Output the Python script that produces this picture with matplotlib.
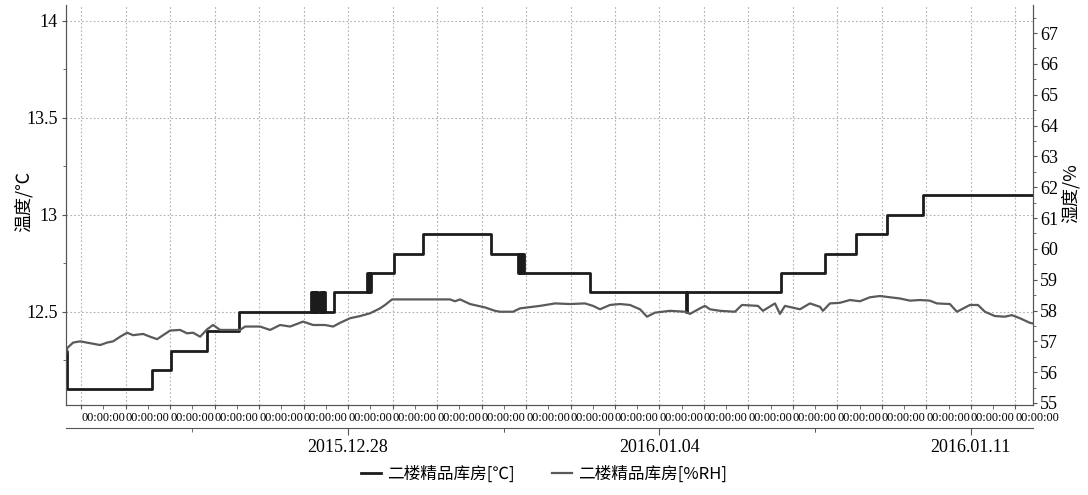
import numpy as np
import pandas as pd
import matplotlib
matplotlib.use('Agg')
import matplotlib.pyplot as plt
import matplotlib.dates as mdates
from matplotlib.ticker import MultipleLocator, FixedLocator

# 字体：数字用衬线体，中文回退到 Noto CJK
plt.rcParams['font.family'] = ['Liberation Serif', 'Noto Sans CJK SC', 'DejaVu Sans']
plt.rcParams['axes.unicode_minus'] = False

# 温度（阶梯数据：变化时刻与数值）
temp_times = [
    '2015-12-21 15:50', '2015-12-21 16:30', '2015-12-23 14:20', '2015-12-24 00:30',
    '2015-12-24 20:00', '2015-12-25 13:15',
    '2015-12-27 04:10', '2015-12-27 04:40', '2015-12-27 05:10', '2015-12-27 05:40',
    '2015-12-27 06:10', '2015-12-27 06:40', '2015-12-27 07:10', '2015-12-27 07:40',
    '2015-12-27 08:50', '2015-12-27 09:20', '2015-12-27 09:50', '2015-12-27 10:20',
    '2015-12-27 10:50', '2015-12-27 11:20', '2015-12-27 11:50',
    '2015-12-27 16:30',
    '2015-12-28 10:20', '2015-12-28 10:50', '2015-12-28 11:20', '2015-12-28 11:50',
    '2015-12-28 12:20',
    '2015-12-29 00:50', '2015-12-29 16:30', '2015-12-31 05:10',
    '2015-12-31 19:40', '2015-12-31 20:10', '2015-12-31 20:40', '2015-12-31 21:10',
    '2015-12-31 21:40', '2015-12-31 22:10', '2015-12-31 22:50',
    '2016-01-02 10:30', '2016-01-04 14:15', '2016-01-04 14:45',
    '2016-01-06 17:30', '2016-01-07 17:15', '2016-01-08 10:00', '2016-01-09 02:40',
    '2016-01-09 22:00', '2016-01-12 09:30',
]
temp_vals = [
    12.3, 12.1, 12.2, 12.3,
    12.4, 12.5,
    12.6, 12.5, 12.6, 12.5,
    12.6, 12.5, 12.6, 12.5,
    12.6, 12.5, 12.6, 12.5,
    12.6, 12.5, 12.5,
    12.6,
    12.7, 12.6, 12.7, 12.6,
    12.7,
    12.8, 12.9, 12.8,
    12.7, 12.8, 12.7, 12.8,
    12.7, 12.8, 12.7,
    12.6, 12.5, 12.6,
    12.7, 12.8, 12.9, 13.0,
    13.1, 13.1,
]

# 湿度
hum_times = [
    '2015-12-21 15:50', '2015-12-21 16:27', '2015-12-21 19:41', '2015-12-21 23:28',
    '2015-12-22 04:51', '2015-12-22 10:15', '2015-12-22 14:01', '2015-12-22 17:16',
    '2015-12-22 21:02', '2015-12-23 00:49', '2015-12-23 04:02', '2015-12-23 09:26',
    '2015-12-23 13:13', '2015-12-23 16:59', '2015-12-23 20:13', '2015-12-24 00:00',
    '2015-12-24 05:23', '2015-12-24 09:10', '2015-12-24 12:24', '2015-12-24 16:11',
    '2015-12-24 19:57', '2015-12-24 23:11', '2015-12-25 02:58', '2015-12-25 13:45',
    '2015-12-25 16:27', '2015-12-26 00:32', '2015-12-26 05:56', '2015-12-26 11:20',
    '2015-12-26 16:43', '2015-12-26 23:44', '2015-12-27 05:07', '2015-12-27 11:36',
    '2015-12-27 15:55', '2015-12-27 19:41', '2015-12-28 01:05', '2015-12-28 06:28',
    '2015-12-28 11:52', '2015-12-28 17:16', '2015-12-28 19:57', '2015-12-28 23:44',
    '2015-12-30 07:01', '2015-12-30 09:42', '2015-12-30 12:24', '2015-12-30 17:48',
    '2015-12-31 01:53', '2015-12-31 07:17', '2015-12-31 09:59', '2015-12-31 16:59',
    '2015-12-31 20:46', '2016-01-01 07:33', '2016-01-01 15:38', '2016-01-01 23:44',
    '2016-01-02 07:49', '2016-01-02 12:08', '2016-01-02 15:55', '2016-01-02 21:18',
    '2016-01-03 02:42', '2016-01-03 08:05', '2016-01-03 13:29', '2016-01-03 17:16',
    '2016-01-03 21:34', '2016-01-04 05:40', '2016-01-04 13:45', '2016-01-04 16:27',
    '2016-01-04 21:50', '2016-01-05 00:32', '2016-01-05 03:14', '2016-01-05 08:38',
    '2016-01-05 16:43', '2016-01-05 20:30', '2016-01-06 05:08', '2016-01-06 07:49',
    '2016-01-06 14:18', '2016-01-06 16:59', '2016-01-06 19:41', '2016-01-07 03:47',
    '2016-01-07 09:10', '2016-01-07 14:34', '2016-01-07 16:11', '2016-01-07 19:58',
    '2016-01-08 01:21', '2016-01-08 06:44', '2016-01-08 12:08', '2016-01-08 17:32',
    '2016-01-08 22:55', '2016-01-09 04:19', '2016-01-09 09:43', '2016-01-09 15:06',
    '2016-01-09 20:30', '2016-01-10 01:53', '2016-01-10 05:40', '2016-01-10 12:41',
    '2016-01-10 16:27', '2016-01-10 23:28', '2016-01-11 03:47', '2016-01-11 07:33',
    '2016-01-11 12:57', '2016-01-11 18:20', '2016-01-11 22:07', '2016-01-12 02:26',
    '2016-01-12 07:49', '2016-01-12 09:30',
]
hum_vals = [
    56.55, 56.78, 56.96, 57.0,
    56.94, 56.88, 56.96, 57.0,
    57.15, 57.28, 57.2, 57.24,
    57.15, 57.07, 57.2, 57.35,
    57.37, 57.26, 57.28, 57.15,
    57.39, 57.53, 57.37, 57.37,
    57.48, 57.48, 57.37, 57.53,
    57.48, 57.64, 57.53, 57.53,
    57.48, 57.6, 57.75, 57.82,
    57.91, 58.07, 58.18, 58.36,
    58.36, 58.3, 58.36, 58.21,
    58.1, 57.99, 57.96, 57.96,
    58.07, 58.15, 58.23, 58.21,
    58.23, 58.15, 58.04, 58.18,
    58.21, 58.18, 58.04, 57.8,
    57.93, 57.99, 57.96, 57.89,
    58.07, 58.15, 58.04, 57.99,
    57.96, 58.18, 58.15, 57.99,
    58.23, 57.89, 58.15, 58.04,
    58.23, 58.12, 57.99, 58.23,
    58.25, 58.34, 58.3, 58.43,
    58.47, 58.43, 58.39, 58.32,
    58.34, 58.32, 58.23, 58.21,
    57.96, 58.18, 58.18, 57.96,
    57.82, 57.8, 57.85, 57.75,
    57.6, 57.58,
]

# 日期刻度
date_ticks = ['2015-12-28', '2016-01-04', '2016-01-11']
x_start, x_end = '2015-12-21 15:50', '2016-01-12 09:30'

t_temp = pd.to_datetime(temp_times)
t_hum = pd.to_datetime(hum_times)
xlim = mdates.date2num(pd.to_datetime([x_start, x_end]))

fig = plt.figure(figsize=(10.88, 4.95), dpi=100)
ax = fig.add_axes([66 / 1088, 1 - 405 / 495, 967 / 1088, 400 / 495])
ax2 = ax.twinx()

spine_c = '#555555'
for a in (ax, ax2):
    for s in a.spines.values():
        s.set_color(spine_c)
    a.spines['top'].set_visible(False)

l1, = ax.plot(t_temp, temp_vals, drawstyle='steps-post', color='#1c1c1c', lw=2.0, zorder=3)
l2, = ax2.plot(t_hum, hum_vals, color='#5a5a5a', lw=1.6, zorder=2)

ax.set_xlim(xlim)
ax.set_ylim(12.02, 14.08)
ax2.set_ylim(54.935, 67.91)

# 左轴
ax.yaxis.set_major_locator(MultipleLocator(0.5))
ax.yaxis.set_minor_locator(MultipleLocator(0.25))
ax.yaxis.set_major_formatter(plt.FuncFormatter(lambda v, p: ('%g' % v)))
ax.tick_params(axis='y', which='major', labelsize=13, length=3, color=spine_c, pad=3)
ax.tick_params(axis='y', which='minor', length=2, color=spine_c)
ax.set_ylabel('温度/℃', fontsize=13, family=['Noto Sans CJK SC'])
ax.yaxis.set_label_coords(-0.034, 0.51)

# 右轴
ax2.yaxis.set_major_locator(MultipleLocator(1))
ax2.yaxis.set_minor_locator(MultipleLocator(0.5))
ax2.tick_params(axis='y', which='major', labelsize=13, length=3, color=spine_c, pad=2)
ax2.tick_params(axis='y', which='minor', length=2, color=spine_c)
ax2.set_ylabel('湿度/%', fontsize=13, family=['Noto Sans CJK SC', 'DejaVu Sans'], rotation=90)
ax2.yaxis.set_label_coords(1.029, 0.53)

# 时间轴（每天 00:00:00）
ax.xaxis.set_major_locator(mdates.DayLocator())
ax.xaxis.set_minor_locator(mdates.HourLocator(byhour=[12]))
ax.xaxis.set_major_formatter(mdates.DateFormatter('%H:%M:%S'))
ax.tick_params(axis='x', which='both', length=3, color=spine_c, labelsize=8.8, pad=2)
for lab in ax.get_xticklabels():
    lab.set_horizontalalignment('left')

ax.grid(True, which='major', axis='both', linestyle=(0, (1.5, 2)), color='#b0b0b0', lw=0.8)
ax.set_axisbelow(True)

# 日期轴
axd = fig.add_axes([66 / 1088, 1 - 428 / 495, 967 / 1088, 0.0001])
axd.set_xlim(xlim)
axd.set_yticks([])
for s in ('top', 'left', 'right'):
    axd.spines[s].set_visible(False)
axd.spines['bottom'].set_color(spine_c)
axd.patch.set_visible(False)
major = mdates.date2num(pd.to_datetime(date_ticks))
axd.xaxis.set_major_locator(FixedLocator(major))
axd.xaxis.set_minor_locator(FixedLocator(np.concatenate([major - 3.5, major + 3.5])))
axd.xaxis.set_major_formatter(mdates.DateFormatter('%Y.%m.%d'))
axd.tick_params(axis='x', which='major', length=5, color=spine_c, labelsize=13, pad=3)
axd.tick_params(axis='x', which='minor', length=3, color=spine_c)

fig.legend([l1, l2], ['二楼精品库房[℃]', '二楼精品库房[%RH]'], loc='lower center',
           bbox_to_anchor=(0.5, -0.005), ncol=2, frameon=False,
           handlelength=1.2, columnspacing=2.2, handletextpad=0.4,
           prop={'family': ['Noto Sans CJK SC', 'DejaVu Sans'], 'size': 12})

fig.savefig('out.png', dpi=100)
